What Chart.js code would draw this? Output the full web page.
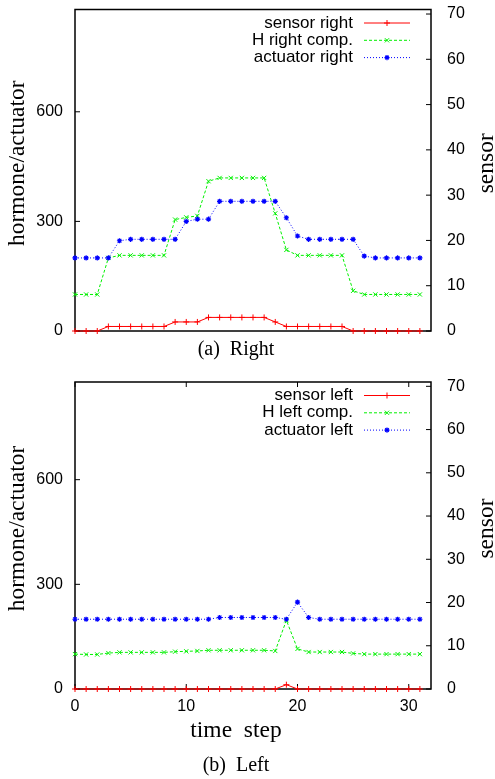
<!DOCTYPE html>
<html>
<head>
<meta charset="utf-8">
<script src="https://cdn.jsdelivr.net/npm/chart.js@4/dist/chart.umd.min.js"></script>
<style>
  body { margin: 0; background: #fff; }
  canvas { display: block; }
</style>
</head>
<body>
<canvas id="rightChart" width="495" height="370"></canvas>
<canvas id="leftChart" width="495" height="409"></canvas>
<script>
// time steps on the x axis
const steps = [0, 1, 2, 3, 4, 5, 6, 7, 8, 9, 10, 11, 12, 13, 14, 15,
  16, 17, 18, 19, 20, 21, 22, 23, 24, 25, 26, 27, 28, 29, 30, 31];

// (a) right side
const sensorRight = [0, 0, 0, 1, 1, 1, 1, 1, 1, 2, 2, 2, 3, 3, 3, 3,
  3, 3, 2, 1, 1, 1, 1, 1, 1, 0, 0, 0, 0, 0, 0, 0];
const hormoneRight = [100, 100, 100, 200, 207, 207, 207, 207, 207, 305, 311, 315, 410, 419, 419, 419,
  419, 419, 322, 222, 207, 207, 207, 207, 207, 110, 100, 100, 100, 100, 100, 100];
const actuatorRight = [200, 200, 200, 200, 247, 251, 251, 251, 251, 251, 300, 306, 306, 355, 355, 355,
  355, 355, 355, 310, 260, 251, 251, 251, 251, 251, 205, 200, 200, 200, 200, 200];

// (b) left side
const sensorLeft = [0, 0, 0, 0, 0, 0, 0, 0, 0, 0, 0, 0, 0, 0, 0, 0,
  0, 0, 0, 1, 0, 0, 0, 0, 0, 0, 0, 0, 0, 0, 0, 0];
const hormoneLeft = [100, 99, 99, 103, 105, 105, 105, 105, 105, 107, 108, 109, 111, 111, 111, 111,
  111, 111, 109, 197, 115, 106, 106, 106, 106, 102, 100, 100, 100, 100, 100, 100];
const actuatorLeft = [200, 200, 200, 200, 200, 200, 200, 200, 200, 200, 200, 200, 200, 205, 205, 205,
  205, 205, 205, 200, 249, 205, 200, 200, 200, 200, 200, 200, 200, 200, 200, 200];

// tick labels
const hormoneTicks = [0, 300, 600];
const sensorTicks = [0, 10, 20, 30, 40, 50, 60, 70];
const stepTicks = [0, 10, 20, 30];

const SANS = '"Liberation Sans", Arial, sans-serif';
const SERIF = '"Liberation Serif", "Times New Roman", serif';

Chart.defaults.color = "#000";
Chart.defaults.font.family = SANS;

function points(values) {
  return values.map((v, i) => ({ x: steps[i], y: v }));
}

function line(label, values, axis, color, dash, style, markSize, markWidth, order) {
  return {
    label: label,
    data: points(values),
    yAxisID: axis,
    borderColor: color,
    backgroundColor: color,
    pointBorderColor: color,
    pointBackgroundColor: color,
    borderWidth: 1,
    borderDash: dash,
    pointStyle: style,
    pointRadius: markSize,
    pointBorderWidth: markWidth,
    tension: 0,
    fill: false,
    clip: false,
    order: order,
  };
}

// box, inward ticks, titles, caption and key drawn the gnuplot way
const gnuplotLook = {
  id: "gnuplotLook",
  beforeDatasetsDraw(chart, args, opts) {
    const { ctx, chartArea: a, scales } = chart;
    ctx.save();
    ctx.strokeStyle = "#000";
    ctx.lineWidth = 1;
    ctx.beginPath();
    scales.y.ticks.forEach(function (t) {
      const p = scales.y.getPixelForValue(t.value);
      ctx.moveTo(a.left, p);
      ctx.lineTo(a.left + 5, p);
    });
    scales.y2.ticks.forEach(function (t) {
      const p = scales.y2.getPixelForValue(t.value);
      ctx.moveTo(a.right - 5, p);
      ctx.lineTo(a.right, p);
    });
    if (opts.xTicks) {
      scales.x.ticks.forEach(function (t) {
        const p = scales.x.getPixelForValue(t.value);
        ctx.moveTo(p, a.bottom);
        ctx.lineTo(p, a.bottom - 5);
        ctx.moveTo(p, a.top);
        ctx.lineTo(p, a.top + 5);
      });
    }
    ctx.stroke();
    ctx.lineWidth = 1.5;
    ctx.strokeRect(a.left, a.top, a.right - a.left, a.bottom - a.top);
    ctx.restore();
  },
  afterDraw(chart, args, opts) {
    const { ctx, chartArea: a } = chart;
    const midY = (a.top + a.bottom) / 2 - 7;
    ctx.save();
    ctx.fillStyle = "#000";
    ctx.textBaseline = "middle";
    ctx.textAlign = "center";
    ctx.font = "23.5px " + SERIF;

    ctx.save();
    ctx.translate(18, midY);
    ctx.rotate(-Math.PI / 2);
    ctx.fillText(opts.yTitle, 0, 0);
    ctx.restore();

    ctx.save();
    ctx.translate(487, midY);
    ctx.rotate(-Math.PI / 2);
    ctx.fillText(opts.y2Title, 0, 0);
    ctx.restore();

    if (opts.xTitle) {
      ctx.fillText(opts.xTitle, 236, opts.xTitleY);
    }
    ctx.font = "20px " + SERIF;
    ctx.fillText(opts.caption, 236, opts.captionY);

    // key, top right: text then sample line with marker
    ctx.font = "17px " + SANS;
    ctx.textAlign = "right";
    chart.data.datasets.forEach(function (ds, k) {
      const y = a.top + 13.5 + k * 17.3;
      ctx.fillStyle = "#000";
      ctx.fillText(ds.label, a.right - 78, y);
      ctx.strokeStyle = ds.borderColor;
      ctx.fillStyle = ds.borderColor;
      ctx.lineWidth = ds.borderWidth;
      ctx.setLineDash(ds.borderDash);
      ctx.beginPath();
      ctx.moveTo(a.right - 67, y);
      ctx.lineTo(a.right - 21, y);
      ctx.stroke();
      ctx.setLineDash([]);
      ctx.lineWidth = ds.pointBorderWidth;
      Chart.helpers.drawPoint(ctx, {
        pointStyle: ds.pointStyle,
        radius: ds.pointRadius,
        borderWidth: ds.pointBorderWidth,
        rotation: 0,
      }, a.right - 44, y);
    });
    ctx.restore();
  },
};

function noPad(s) {
  s.paddingTop = 0;
  s.paddingBottom = 0;
}

function makeChart(id, side, sensor, hormone, actuator, look, padTop, xHeight, showX) {
  const ctx = document.getElementById(id).getContext("2d");
  return new Chart(ctx, {
    type: "line",
    data: {
      datasets: [
        line("sensor " + side, sensor, "y2", "rgb(255, 0, 0)", [], "cross", 3, 1, 3),
        line("H " + side + " comp.", hormone, "y", "rgb(0, 240, 0)", [3, 2], "crossRot", 3, 1, 2),
        line("actuator " + side, actuator, "y", "rgb(0, 0, 255)", [1, 2], "star", 2.6, 1.2, 1),
      ],
    },
    options: {
      responsive: false,
      animation: false,
      devicePixelRatio: 1,
      layout: { padding: { top: padTop, left: 0, right: 0, bottom: 0 } },
      plugins: {
        legend: { display: false },
        tooltip: { enabled: false },
        gnuplotLook: look,
      },
      scales: {
        x: {
          type: "linear",
          min: 0,
          max: 32,
          grid: { display: false, drawTicks: false },
          border: { display: false },
          ticks: { display: showX, padding: 8, font: { size: 16 } },
          afterBuildTicks: function (s) { s.ticks = stepTicks.map(v => ({ value: v })); },
          afterFit: function (s) { s.height = xHeight; s.paddingLeft = 0; s.paddingRight = 0; },
        },
        y: {
          position: "left",
          min: 0,
          max: 880,
          grid: { display: false, drawTicks: false },
          border: { display: false },
          ticks: { padding: 12, font: { size: 16 } },
          afterBuildTicks: function (s) { s.ticks = hormoneTicks.map(v => ({ value: v })); },
          afterFit: function (s) { s.width = 75; noPad(s); },
        },
        y2: {
          position: "right",
          min: 0,
          max: 71,
          grid: { display: false, drawTicks: false },
          border: { display: false },
          ticks: { padding: 16, font: { size: 16 } },
          afterBuildTicks: function (s) { s.ticks = sensorTicks.map(v => ({ value: v })); },
          afterFit: function (s) { s.width = 64; noPad(s); },
        },
      },
    },
    plugins: [gnuplotLook],
  });
}

makeChart("rightChart", "right", sensorRight, hormoneRight, actuatorRight, {
  yTitle: "hormone/actuator",
  y2Title: "sensor",
  xTitle: null,
  caption: "(a)  Right",
  captionY: 350,
  xTicks: false,
}, 9.5, 39, false);

makeChart("leftChart", "left", sensorLeft, hormoneLeft, actuatorLeft, {
  yTitle: "hormone/actuator",
  y2Title: "sensor",
  xTitle: "time  step",
  xTitleY: 361,
  caption: "(b)  Left",
  captionY: 396,
  xTicks: true,
}, 12, 90, true);
</script>
</body>
</html>
